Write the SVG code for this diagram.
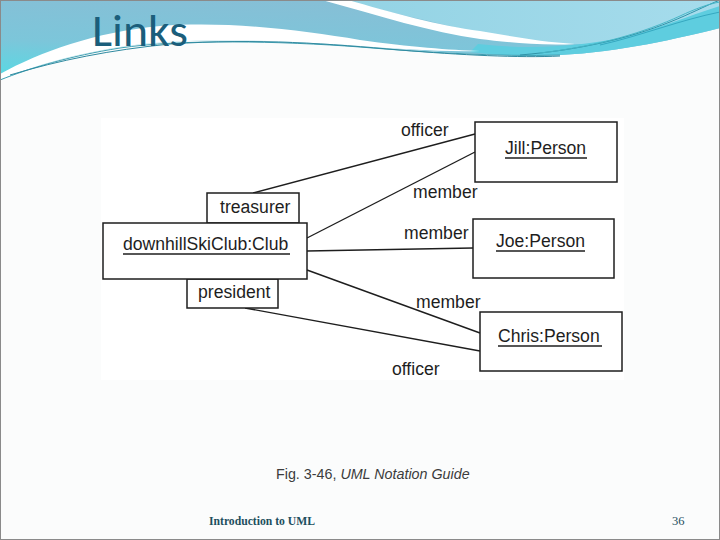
<svg xmlns="http://www.w3.org/2000/svg" width="720" height="540" viewBox="0 0 720 540">
<defs>
<linearGradient id="hdr" x1="0" y1="1" x2="0.35" y2="0">
<stop offset="0" stop-color="#55dbe4"/>
<stop offset="0.45" stop-color="#7cc6da"/>
<stop offset="1" stop-color="#86bfd6"/>
</linearGradient>
<linearGradient id="lite" x1="0" y1="0" x2="1" y2="0">
<stop offset="0" stop-color="#93d3e4"/>
<stop offset="1" stop-color="#a6dcec"/>
</linearGradient>
<style>
.box{fill:#fff;stroke:#1e1e1e;stroke-width:1.5}
.lnk{fill:none;stroke:#1e1e1e;stroke-width:1.4}
.ul{stroke:#1e1e1e;stroke-width:1.3}
.t{font-family:"Liberation Sans",Arial,sans-serif;font-size:17.6px;fill:#1e1e1e}
.strand{fill:none;stroke-width:1}
</style>
</defs>
<rect x="0" y="0" width="720" height="540" fill="#fbfcfc"/>
<g id="header">
<path d="M0,0 H720 V28 C680,38 620,52 560,55 C500,57 420,51 360,46 C280,40 180,37 120,47 C70,55 30,67 0,80 Z" fill="url(#hdr)"/>
<path d="M338,0 H720 V8 C690,22 640,40 585,44 C540,46 505,40 480,33 C430,22 385,10 338,0 Z" fill="url(#lite)"/>
<path d="M322,0 L348,0 C390,12 440,26 480,31 C510,36 540,42 575,44 C540,46 505,42 480,39 C430,32 380,16 322,0 Z" fill="#ffffff"/>
<path d="M478,44 C530,50 590,47 640,33 C675,22 700,12 720,6 V28 C680,38 620,52 560,55 C520,57 495,55 470,52 Z" fill="#5ecddf"/>
<path d="M0,74 C40,52 95,32 160,26 C230,21 300,30 360,40 C410,47 450,50 480,51 C440,52 400,49 360,46 C280,40 180,37 120,47 C70,55 30,67 0,80 Z" fill="#ffffff"/>
<path d="M0,80 C30,68 70,56 120,48 C180,39 280,41 360,47 C420,52 500,57 560,55" class="strand" stroke="#3e9fb2"/>
<path d="M10,75 C60,60 110,50 170,44 C260,38 330,44 400,50 C460,55 520,58 560,56" class="strand" stroke="#2f8aa0" stroke-width="0.8"/>
<path d="M520,55 C580,50 630,38 670,22 C690,14 705,6 720,0" class="strand" stroke="#2f93a8"/>
<path d="M540,53 C600,46 645,32 680,16 C695,9 708,4 720,2" class="strand" stroke="#47b7c8"/>
<path d="M600,45 C640,36 680,20 720,12" class="strand" stroke="#35a8c0" stroke-width="3"/>
<text x="92" y="46" font-family="Calibri,'Liberation Sans',Arial,sans-serif" font-size="46" fill="#1b5e7b" textLength="96" lengthAdjust="spacingAndGlyphs">Links</text>
</g>
<rect x="101" y="118" width="523" height="262" fill="#ffffff"/>
<g id="connectors">
<line class="lnk" x1="253" y1="193" x2="475" y2="134"/>
<line class="lnk" x1="307" y1="238" x2="475" y2="152"/>
<line class="lnk" x1="307" y1="251" x2="473" y2="248"/>
<line class="lnk" x1="307" y1="270" x2="480" y2="333"/>
<line class="lnk" x1="245" y1="308" x2="480" y2="351"/>
<text class="t" x="401" y="136">officer</text>
<text class="t" x="413" y="198">member</text>
<text class="t" x="404" y="239">member</text>
<text class="t" x="416" y="308">member</text>
<text class="t" x="392" y="375">officer</text>
</g>
<g id="treasurer">
<rect class="box" x="207" y="193" width="92" height="30"/>
<text class="t" x="220" y="213">treasurer</text>
</g>
<g id="president">
<rect class="box" x="187" y="279" width="91" height="29"/>
<text class="t" x="198" y="298">president</text>
</g>
<g id="club">
<rect class="box" x="103" y="223" width="204" height="56"/>
<text class="t" x="123" y="250">downhillSkiClub:Club</text>
<line class="ul" x1="123" y1="254" x2="290" y2="254"/>
</g>
<g id="jill">
<rect class="box" x="475" y="122" width="142" height="60"/>
<text class="t" x="505" y="154">Jill:Person</text>
<line class="ul" x1="505" y1="158" x2="587" y2="158"/>
</g>
<g id="joe">
<rect class="box" x="473" y="219" width="141" height="59"/>
<text class="t" x="496" y="247">Joe:Person</text>
<line class="ul" x1="496" y1="251" x2="585" y2="251"/>
</g>
<g id="chris">
<rect class="box" x="480" y="312" width="142" height="59"/>
<text class="t" x="498" y="342">Chris:Person</text>
<line class="ul" x1="498" y1="346" x2="602" y2="346"/>
</g>
<text x="276" y="479" font-family="'Liberation Sans',Arial,sans-serif" font-size="14.3" fill="#3c3c3c">Fig. 3-46, <tspan font-style="italic">UML Notation Guide</tspan></text>
<text x="209" y="525" font-family="'Liberation Serif','Times New Roman',serif" font-size="12.5" font-weight="bold" fill="#1d4f5e" textLength="106" lengthAdjust="spacingAndGlyphs">Introduction to UML</text>
<text x="672" y="525" font-family="'Liberation Serif','Times New Roman',serif" font-size="12.5" fill="#1d4f5e">36</text>
<rect x="0.5" y="0.5" width="719" height="539" fill="none" stroke="#8a8a8a" stroke-width="1"/>
</svg>
